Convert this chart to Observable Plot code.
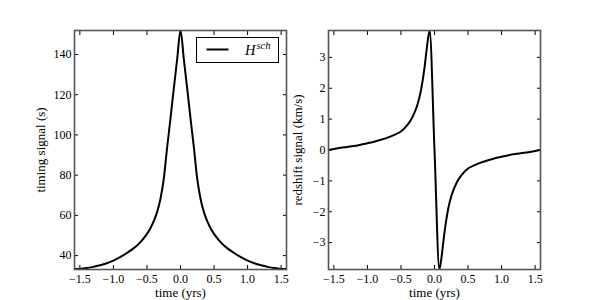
<!DOCTYPE html>
<html>
<head>
<meta charset="utf-8">
<script src="https://cdn.jsdelivr.net/npm/d3@7"></script>
<script src="https://cdn.jsdelivr.net/npm/@observablehq/plot@0.6"></script>
<style>
  html, body { margin: 0; padding: 0; background: #fff; }
  #wrap { position: relative; width: 600px; height: 300px; display: flex; font-family: "Liberation Serif", serif; }
  #wrap svg { overflow: visible; }
  #wrap svg text { font-family: "Liberation Serif", serif !important; }
  #wrap > svg.overlay { position: absolute; left: 0; top: 0; pointer-events: none; }
</style>
</head>
<body>
<div id="wrap"></div>
<script>
// ---- data ----
const timeTiming = [-1.58,-1.5,-1.4,-1.3,-1.2,-1.1,-1.0,-0.9,-0.8,-0.7,-0.6,-0.5,-0.45,-0.4,-0.35,-0.3,-0.25,-0.2,-0.15,-0.1,-0.05,0,
                    0.05,0.1,0.15,0.2,0.25,0.3,0.35,0.4,0.45,0.5,0.6,0.7,0.8,0.9,1.0,1.1,1.2,1.3,1.4,1.5,1.58];
const timingSignal = [33.3,33.4,33.8,34.4,35.2,36.2,37.5,39.2,41.3,43.6,46.6,50.8,53.5,57,61.5,68,78,93.5,108,123,137.5,152,
                      137.5,123,108,93.5,78,68,61.5,57,53.5,50.8,46.6,43.6,41.3,39.2,37.5,36.2,35.2,34.4,33.8,33.4,33.3];

const timeRedshift = [-1.58,-1.5,-1.4,-1.3,-1.2,-1.1,-1.0,-0.9,-0.8,-0.7,-0.6,-0.5,-0.4,-0.35,-0.3,-0.25,-0.2,-0.15,-0.12,-0.1,-0.073,0,
                      0.073,0.1,0.12,0.15,0.2,0.25,0.3,0.35,0.4,0.5,0.6,0.7,0.8,0.9,1.0,1.1,1.2,1.3,1.4,1.5,1.58];
const redshiftSignal = [0.0,0.03,0.07,0.1,0.13,0.17,0.22,0.27,0.33,0.40,0.49,0.6,0.82,0.98,1.2,1.5,1.95,2.65,3.2,3.55,3.86,0,
                        -3.86,-3.55,-3.2,-2.65,-1.95,-1.5,-1.2,-0.98,-0.82,-0.6,-0.49,-0.40,-0.33,-0.27,-0.22,-0.17,-0.13,-0.1,-0.07,-0.03,0.0];

const xTicks = [-1.5,-1.0,-0.5,0.0,0.5,1.0,1.5];
const yTicksTiming = [40,60,80,100,120,140];
const yTicksRedshift = [-3,-2,-1,0,1,2,3];
const xLabel = "time (yrs)";
const yLabelTiming = "timing signal (s)";
const yLabelRedshift = "redshift signal (km/s)";
const legendLabel = "H";
const legendSup = "sch";

const timingData = timeTiming.map((t, i) => ({t, v: timingSignal[i]}));
const redshiftData = timeRedshift.map((t, i) => ({t, v: redshiftSignal[i]}));

const serif = "'Liberation Serif', serif";
const frameColor = "#555";
const fmtX = d3.format(".1f");

function panel({data, yDomain, yTicks, yFormat, yLabel, marginLeft, marginRight, yLabelDx}) {
  return Plot.plot({
    width: 300,
    height: 300,
    marginLeft,
    marginRight,
    marginTop: 30,
    marginBottom: 31,
    style: {fontFamily: serif, fontSize: "12px", background: "#fff", color: "#000", overflow: "visible"},
    x: {domain: [-1.58, 1.58]},
    y: {domain: yDomain},
    marks: [
      Plot.line(data, {x: "t", y: "v", stroke: "#000", strokeWidth: 2, clip: true, curve: "monotone-x", strokeLinejoin: "round"}),
      Plot.axisX(xTicks, {anchor: "bottom", tickSize: -4, tickPadding: 9, tickFormat: fmtX, label: null, fontSize: 12, fontFamily: serif}),
      Plot.axisX(xTicks, {anchor: "top", tickSize: -4, tickFormat: () => "", label: null}),
      Plot.axisY(yTicks, {anchor: "left", tickSize: -4, tickPadding: 7, tickFormat: yFormat, label: null, fontSize: 12, fontFamily: serif}),
      Plot.axisY(yTicks, {anchor: "right", tickSize: -4, tickFormat: () => "", label: null}),
      Plot.frame({stroke: frameColor, strokeWidth: 1.6}),
      Plot.text([xLabel], {frameAnchor: "bottom", dy: 23, lineAnchor: "middle", textAnchor: "middle", fontSize: 13, fontFamily: serif}),
      Plot.text([yLabel], {frameAnchor: "left", dx: yLabelDx, rotate: -90, lineAnchor: "middle", textAnchor: "middle", fontSize: 13, fontFamily: serif})
    ]
  });
}

const wrap = document.getElementById("wrap");
wrap.appendChild(panel({
  data: timingData, yDomain: [33.1, 151.9], yTicks: yTicksTiming, yFormat: d3.format("d"),
  yLabel: yLabelTiming, marginLeft: 74, marginRight: 14, yLabelDx: -34
}));
wrap.appendChild(panel({
  data: redshiftData, yDomain: [-3.87, 3.87], yTicks: yTicksRedshift, yFormat: d3.format("d"),
  yLabel: yLabelRedshift, marginLeft: 28, marginRight: 60, yLabelDx: -31
}));

// legend overlay (inside left panel, upper right)
const ns = "http://www.w3.org/2000/svg";
const ov = document.createElementNS(ns, "svg");
ov.setAttribute("class", "overlay");
ov.setAttribute("width", 600);
ov.setAttribute("height", 300);
ov.innerHTML = `
  <rect x="196.5" y="37.5" width="82" height="25" fill="#fff" stroke="#000" stroke-width="1"/>
  <line x1="206.5" x2="228.5" y1="49.5" y2="49.5" stroke="#000" stroke-width="2"/>
  <text x="245" y="54.5" font-style="italic" font-size="14.5">${legendLabel}<tspan font-size="10.5" dy="-5.5" dx="1">${legendSup}</tspan></text>
`;
wrap.appendChild(ov);
</script>
</body>
</html>
